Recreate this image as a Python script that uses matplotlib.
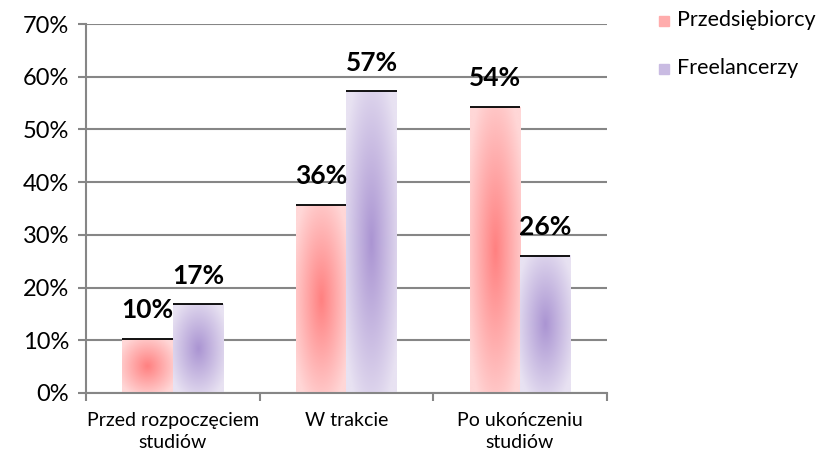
import numpy as np
import matplotlib.pyplot as plt
from matplotlib.patches import Rectangle

plt.rcParams['font.family'] = ['Lato', 'DejaVu Sans']

categories = ['Przed rozpoczęciem\nstudiów', 'W trakcie', 'Po ukończeniu\nstudiów']
series = ['Przedsiębiorcy', 'Freelancerzy']
przedsiebiorcy = [10.2, 35.6, 54.2]
freelancerzy = [16.8, 57.2, 26.0]
labels_p = ['10%', '36%', '54%']
labels_f = ['17%', '57%', '26%']

# centre / edge colours of the radial gradient
grad = {
    'Przedsiębiorcy': ((255, 128, 128), (255, 215, 215)),
    'Freelancerzy': ((170, 148, 210), (232, 226, 242)),
}


def gradient_bar(ax, x0, width, height, inner, outer):
    ny, nx = 80, 40
    yy, xx = np.mgrid[-1:1:ny * 1j, -1:1:nx * 1j]
    r = np.clip(np.sqrt(xx ** 2 + yy ** 2) / 1.25, 0, 1)
    inner = np.array(inner) / 255.0
    outer = np.array(outer) / 255.0
    img = inner[None, None, :] * (1 - r[..., None]) + outer[None, None, :] * r[..., None]
    ax.imshow(img, extent=(x0, x0 + width, 0, height), aspect='auto',
              origin='lower', zorder=2, interpolation='bilinear')
    ax.plot([x0, x0 + width], [height, height], color='black', lw=1.3,
            zorder=3, solid_capstyle='butt')


fig = plt.figure(figsize=(8.21, 4.53), dpi=100)
ax = fig.add_axes([0.1048, 0.1325, 0.6342, 0.8145])

x = np.arange(len(categories))
w = 0.29
for i in range(len(categories)):
    gradient_bar(ax, x[i] - w, w, przedsiebiorcy[i], *grad[series[0]])
    gradient_bar(ax, x[i], w, freelancerzy[i], *grad[series[1]])
    ax.text(x[i] - w / 2, przedsiebiorcy[i] + 3.2, labels_p[i], ha='center',
            va='bottom', fontsize=19, fontweight='bold', zorder=4)
    ax.text(x[i] + w / 2, freelancerzy[i] + 3.2, labels_f[i], ha='center',
            va='bottom', fontsize=19, fontweight='bold', zorder=4)

ax.set_xlim(-0.5, 2.5)
ax.set_ylim(0, 70)
ax.set_yticks(np.arange(0, 71, 10))
ax.set_yticklabels(['%d%%' % v for v in range(0, 71, 10)], fontsize=17)
ax.yaxis.grid(True, color='#868686', lw=1.5, zorder=1)
ax.set_axisbelow(True)

ax.set_xticks([-0.5, 0.5, 1.5, 2.5])
ax.set_xticklabels([])
ax.set_xticks(x, minor=True)
ax.set_xticklabels(categories, minor=True, fontsize=14, linespacing=1.35)
ax.tick_params(axis='x', which='minor', length=0, pad=14)
ax.tick_params(axis='both', which='major', length=6, width=1.5, color='#868686')
ax.tick_params(axis='y', pad=6)

for s in ['top', 'right']:
    ax.spines[s].set_visible(False)
for s in ['left', 'bottom']:
    ax.spines[s].set_color('#868686')
    ax.spines[s].set_linewidth(1.5)

# legend
for j, name in enumerate(series):
    yl = 0.955 - j * 0.106
    inner, outer = grad[name]
    c = tuple((np.array(inner) * 0.5 + np.array(outer) * 0.5) / 255.0)
    fig.patches.append(Rectangle((0.803, yl - 0.012), 0.0115, 0.021,
                                 transform=fig.transFigure, color=c))
    fig.text(0.824, yl, name, fontsize=15.5, va='center', ha='left')

fig.savefig('out.png', dpi=100)
